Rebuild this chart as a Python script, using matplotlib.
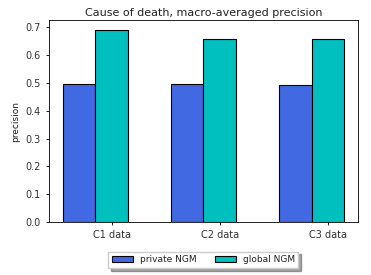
import matplotlib
matplotlib.use('Agg')
import matplotlib.pyplot as plt
import numpy as np

# --- Dados ---
categories = ['C1 data', 'C2 data', 'C3 data']
private_ngm = [0.498, 0.498, 0.494]
global_ngm = [0.692, 0.659, 0.659]

x = np.arange(len(categories))
width = 0.3

fig, ax = plt.subplots(figsize=(3.71, 2.75), dpi=100)
fig.subplots_adjust(left=0.132, right=0.965, bottom=0.193, top=0.927)

ax.bar(x, private_ngm, width, color='royalblue', edgecolor='black', linewidth=0.8, label='private NGM')
ax.bar(x + width, global_ngm, width, color='c', edgecolor='black', linewidth=0.8, label='global NGM')

ax.set_xticks(x + width)
ax.set_xticklabels(categories)
ax.tick_params(labelsize=7, length=2.5, width=0.6, labelcolor='#333333')
ax.set_ylabel('precision', fontsize=6.5, color='#222222')
ax.set_title('Cause of death, macro-averaged precision', fontsize=8, pad=3, color='#222222')
for s in ax.spines.values():
    s.set_linewidth(0.6)

leg = ax.legend(loc='upper center', bbox_to_anchor=(0.5, -0.125), ncol=2, fontsize=6.5,
                shadow=True, fancybox=False, handlelength=2.3, columnspacing=2.0)
for t in leg.get_texts():
    t.set_color('#222222')

plt.savefig('out.png', dpi=100)
